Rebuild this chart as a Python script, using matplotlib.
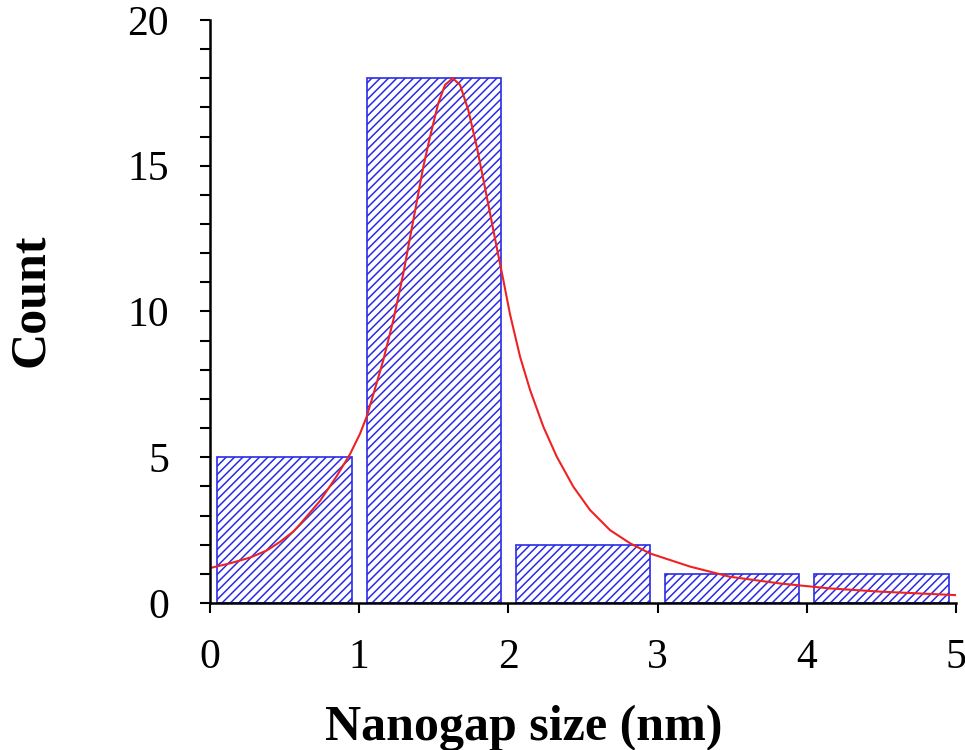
import numpy as np
import matplotlib.pyplot as plt
from matplotlib.ticker import MultipleLocator

# histogram of nanogap sizes
bin_centers = [0.5, 1.5, 2.5, 3.5, 4.5]
counts = [5, 18, 2, 1, 1]

# fitted curve, points
fit_x = [0.0, 0.134, 0.27, 0.38, 0.47, 0.558, 0.603, 0.737, 0.849, 0.938,
         1.005, 1.050, 1.117, 1.162, 1.229, 1.296, 1.363, 1.430, 1.475, 1.530,
         1.575, 1.627, 1.676, 1.731, 1.788, 1.855, 1.921, 1.966, 2.011, 2.078,
         2.145, 2.234, 2.324, 2.435, 2.547, 2.681, 2.815, 2.949, 3.217, 3.485,
         3.82, 4.155, 4.49, 5.0]
fit_y = [1.2, 1.36, 1.56, 1.8, 2.1, 2.45, 2.7, 3.5, 4.35, 5.1,
         5.8, 6.39, 7.54, 8.34, 9.71, 11.31, 13.14, 14.97, 16.0, 17.14,
         17.77, 18.0, 17.77, 16.91, 15.65, 13.94, 12.22, 11.08, 9.9, 8.45,
         7.31, 6.05, 5.02, 3.99, 3.19, 2.50, 2.05, 1.70, 1.25, 0.9,
         0.67, 0.5, 0.39, 0.27]

plt.rcParams['font.family'] = 'Liberation Serif'
plt.rcParams['hatch.linewidth'] = 1.1

fig = plt.figure(figsize=(9.65, 7.5), dpi=100)
ax = fig.add_axes([0.2176, 0.196, 0.7731, 0.7774])

ax.bar(bin_centers, counts, width=0.9, facecolor='white', edgecolor='#2b2be6',
       hatch='////', linewidth=1.2)
ax.plot(fit_x, fit_y, color='#ee2222', linewidth=1.5)

ax.set_xlim(0, 5)
ax.set_ylim(0, 20)
ax.xaxis.set_major_locator(MultipleLocator(1))
ax.yaxis.set_major_locator(MultipleLocator(5))
ax.yaxis.set_minor_locator(MultipleLocator(1))

for side in ['top', 'right']:
    ax.spines[side].set_visible(False)
for side in ['left', 'bottom']:
    ax.spines[side].set_linewidth(1.8)

ax.tick_params(which='both', direction='out', length=7.5, width=1.5, labelsize=30)
ax.tick_params(axis='y', pad=22)
ax.tick_params(axis='x', pad=18)

ax.set_ylabel('Count', fontsize=36, fontweight='bold')
ax.set_xlabel('Nanogap size (nm)', fontsize=36, fontweight='bold')
ax.yaxis.set_label_coords(-0.209, 0.52)
ax.xaxis.set_label_coords(0.42, -0.175)

fig.savefig('out.png', dpi=100)
